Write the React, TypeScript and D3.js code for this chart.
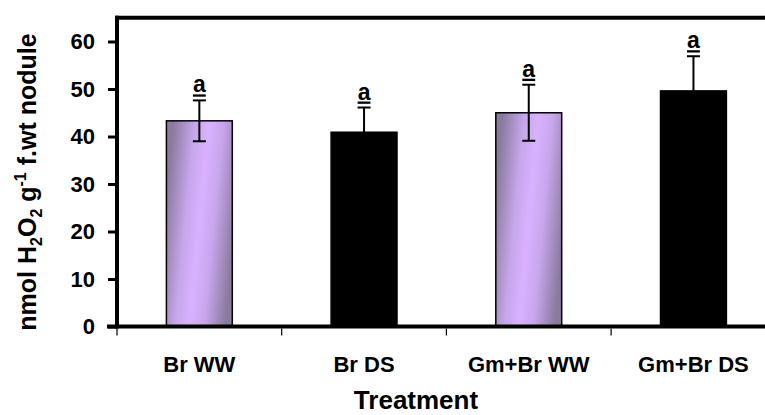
import React, { useEffect, useRef } from 'react'
import * as d3 from 'd3'

const categories = ['Br WW', 'Br DS', 'Gm+Br WW', 'Gm+Br DS']
const means = [43.3, 40.9, 45.0, 49.6]
const errors = [4.3, 5.2, 5.9, 7.3]
const letters = ['a', 'a', 'a', 'a']
const fills = ['grad', 'black', 'grad', 'black']
const yTicks = [0, 10, 20, 30, 40, 50, 60]

const W = 765
const H = 415

export default function App() {
  const svgRef = useRef<SVGSVGElement>(null)

  useEffect(() => {
    const svg = d3.select(svgRef.current)
    svg.selectAll('*').remove()
    const font = '"Liberation Sans", Arial, sans-serif'

    // gradient for the lavender bars
    const defs = svg.append('defs')
    const g = defs.append('linearGradient')
      .attr('id', 'lav')
      .attr('x1', 0).attr('y1', 0.35)
      .attr('x2', 1).attr('y2', 0.65)
    g.append('stop').attr('offset', 0).attr('stop-color', '#8a7a9e')
    g.append('stop').attr('offset', 0.3).attr('stop-color', '#c6a6ea')
    g.append('stop').attr('offset', 0.5).attr('stop-color', '#d8b2ff')
    g.append('stop').attr('offset', 0.7).attr('stop-color', '#c8a6ec')
    g.append('stop').attr('offset', 1).attr('stop-color', '#8a7a9e')

    const left = 117
    const x = d3.scaleBand()
      .domain(categories)
      .range([left, left + 4 * 164.7])
      .paddingInner(0.6)
      .paddingOuter(0.3)

    const y = d3.scaleLinear().domain([0, 65]).range([326.5, 17.75])

    // bars
    svg.selectAll('.bar')
      .data(categories)
      .join('rect')
      .attr('x', d => x(d)!)
      .attr('y', (d, i) => y(means[i]))
      .attr('width', x.bandwidth())
      .attr('height', (d, i) => y(0) - y(means[i]))
      .attr('fill', (d, i) => fills[i] === 'grad' ? 'url(#lav)' : '#000')
      .attr('stroke', '#000')
      .attr('stroke-width', 1.5)

    // error bars (upper + lower whisker)
    const eg = svg.append('g').attr('stroke', '#000').attr('stroke-width', 2)
    categories.forEach((c, i) => {
      const cx = x(c)! + x.bandwidth() / 2
      const top = y(means[i] + errors[i])
      const bot = y(means[i] - errors[i])
      eg.append('line').attr('x1', cx).attr('x2', cx).attr('y1', top).attr('y2', bot)
      eg.append('line').attr('x1', cx - 6.5).attr('x2', cx + 6.5).attr('y1', top).attr('y2', top)
      eg.append('line').attr('x1', cx - 6.5).attr('x2', cx + 6.5).attr('y1', bot).attr('y2', bot)
      // letter with underline
      svg.append('text')
        .attr('x', cx).attr('y', top - 8)
        .attr('text-anchor', 'middle')
        .attr('font-family', font).attr('font-weight', 'bold').attr('font-size', 23)
        .attr('text-decoration', 'underline')
        .text(letters[i])
    })

    // frame top line
    svg.append('line')
      .attr('x1', left - 2).attr('x2', W).attr('y1', y(65)).attr('y2', y(65))
      .attr('stroke', '#000').attr('stroke-width', 4)

    // y axis
    const yAxis = d3.axisLeft(y).tickValues(yTicks).tickSize(9).tickPadding(13)
    const ya = svg.append('g').attr('transform', `translate(${left},0)`).call(yAxis)
    ya.select('.domain').attr('stroke-width', 4).attr('d', `M0,${y(65) - 2}V${y(0) + 2}`)
    ya.selectAll('.tick line').attr('stroke-width', 3)
    ya.selectAll('.tick text')
      .attr('font-family', font).attr('font-weight', 'bold').attr('font-size', 22)
      .attr('fill', '#000')

    // x axis
    const xAxis = d3.axisBottom(x).tickSize(0).tickPadding(0).tickFormat(() => '')
    const xa = svg.append('g').attr('transform', `translate(0,${y(0)})`).call(xAxis)
    xa.select('.domain').attr('stroke-width', 4).attr('d', `M${left - 10},0H${W}`)
    // ticks between categories
    const step = x.step()
    d3.range(5).forEach(k => {
      xa.append('line')
        .attr('x1', left + k * step).attr('x2', left + k * step)
        .attr('y1', 2).attr('y2', 9)
        .attr('stroke', '#000').attr('stroke-width', 1.2)
    })
    svg.selectAll('.cat')
      .data(categories)
      .join('text')
      .attr('x', d => x(d)! + x.bandwidth() / 2)
      .attr('y', 372)
      .attr('text-anchor', 'middle')
      .attr('font-family', font).attr('font-weight', 'bold').attr('font-size', 22)
      .text(d => d)

    svg.append('text')
      .attr('x', 416).attr('y', 409)
      .attr('text-anchor', 'middle')
      .attr('font-family', font).attr('font-weight', 'bold').attr('font-size', 26)
      .text('Treatment')

    // y axis title with sub/superscripts
    const yt = svg.append('text')
      .attr('transform', 'translate(36,182) rotate(-90)')
      .attr('text-anchor', 'middle')
      .attr('font-family', font).attr('font-weight', 'bold').attr('font-size', 25)
    yt.append('tspan').text('nmol H')
    yt.append('tspan').attr('font-size', 16).attr('dy', 6).text('2')
    yt.append('tspan').attr('dy', -6).text('O')
    yt.append('tspan').attr('font-size', 16).attr('dy', 6).text('2')
    yt.append('tspan').attr('dy', -6).text(' g')
    yt.append('tspan').attr('font-size', 16).attr('dy', -10).text('-1')
    yt.append('tspan').attr('dy', 10).text(' f.wt nodule')
  }, [])

  return (
    <svg ref={svgRef} width={W} height={H}
      style={{ position: 'absolute', left: 0, top: 0, background: '#fff' }} />
  )
}
